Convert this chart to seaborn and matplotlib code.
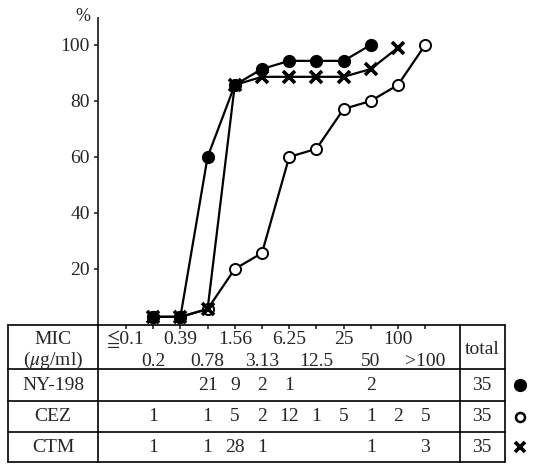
import matplotlib
matplotlib.use("Agg")
import matplotlib.pyplot as plt
import seaborn as sns

# MIC classes (ug/ml) shown under the plot
categories = ["≦0.1", "0.2", "0.39", "0.78", "1.56", "3.13", "6.25",
              "12.5", "25", "50", "100", ">100"]

# number of strains per MIC class
ny198_counts = [0, 0, 0, 21, 9, 2, 1, 0, 0, 2, 0, 0]
cez_counts = [0, 1, 0, 1, 5, 2, 12, 1, 5, 1, 2, 5]
ctm_counts = [0, 1, 0, 1, 28, 1, 0, 0, 0, 1, 0, 3]

# cumulative %
ny198_mic = ["0.2", "0.39", "0.78", "1.56", "3.13", "6.25", "12.5", "25", "50"]
ny198_pct = [2.9, 2.9, 60, 85.7, 91.4, 94.3, 94.3, 94.3, 100]
cez_mic = ["0.2", "0.39", "0.78", "1.56", "3.13", "6.25", "12.5", "25", "50", "100", ">100"]
cez_pct = [2.9, 2.9, 5.7, 20, 25.7, 60, 62.9, 77.1, 80, 85.7, 100]
ctm_mic = ["0.2", "0.39", "0.78", "1.56", "3.13", "6.25", "12.5", "25", "50", "100"]
ctm_pct = [2.9, 2.9, 5.7, 85.7, 88.6, 88.6, 88.6, 88.6, 91.4, 99]

row_names = ["NY-198", "CEZ", "CTM"]

sns.set_style("ticks")
plt.rcParams["font.family"] = ["Liberation Serif", "STIXGeneral", "DejaVu Sans"]
plt.rcParams["mathtext.fontset"] = "stix"
FS = 14

W, H = 536, 466
fig = plt.figure(figsize=(W / 100, H / 100), dpi=100)


def box(l, t, r, b):
    return [l / W, 1 - b / H, (r - l) / W, (b - t) / H]


# pixel position of category 0 and step between categories
x0_px, dx_px = 126, 27.2


def cat(p):
    return (p - x0_px) / dx_px


# --- curve axes ---
ax = fig.add_axes(box(98, 18, 460, 325))
ax.set_xlim(cat(98), cat(460))
ax.set_ylim(0, 109.6)

idx = {c: i for i, c in enumerate(categories)}

sns.lineplot(x=[idx[m] for m in cez_mic], y=cez_pct, ax=ax, color="black", lw=1.6,
             marker="o", markersize=8, markerfacecolor="white",
             markeredgecolor="black", markeredgewidth=1.4, clip_on=False, zorder=3)
sns.lineplot(x=[idx[m] for m in ctm_mic], y=ctm_pct, ax=ax, color="black", lw=1.6,
             marker="x", markersize=8, markeredgecolor="black",
             markeredgewidth=2.6, clip_on=False, zorder=4)
sns.lineplot(x=[idx[m] for m in ny198_mic], y=ny198_pct, ax=ax, color="black", lw=1.6,
             marker="o", markersize=8.5, markerfacecolor="black",
             markeredgecolor="black", markeredgewidth=1, clip_on=False, zorder=5)

ax.set_xlabel("")
ax.set_ylabel("")
sns.despine(ax=ax, top=True, right=True, bottom=True)
ax.spines["left"].set_linewidth(1.3)
ax.set_yticks([20, 40, 60, 80, 100])
ax.set_yticklabels(["20", "40", "60", "80", "100"], fontsize=FS)
ax.set_xticks(range(len(categories)))
ax.tick_params(axis="y", direction="out", length=3, width=1.2, pad=3)
ax.tick_params(axis="x", direction="out", length=3, width=1.2, labelbottom=False)
ax.annotate("%", xy=(0, 1), xycoords="axes fraction", xytext=(-11, 1),
            textcoords="offset points", ha="center", va="center", fontsize=FS - 1)

# --- table under the plot ---
tab = fig.add_axes(box(8, 325, 505, 462))
tab.set_xlim(cat(8), cat(505))
tab.set_ylim(462, 325)
tab.axis("off")

rows_y = [325, 369, 401, 432, 462]
for y in rows_y:
    tab.axhline(y, color="black", lw=1.2, clip_on=False)
for p in [8, 98, 460, 505]:
    tab.axvline(cat(p), color="black", lw=1.2, clip_on=False)

tab.text(cat(53), 339, "MIC", ha="center", va="center", fontsize=FS)
tab.text(cat(53), 360, r"($\mu$g/ml)", ha="center", va="center", fontsize=FS)
tab.text(cat(482), 349, "total", ha="center", va="center", fontsize=FS)

for i, lab in enumerate(categories):
    y = 339 if i % 2 == 0 else 361
    tab.text(i, y, lab, ha="center", va="center", fontsize=FS)

styles = [dict(marker="o", ms=8.5, mfc="black", mec="black", mew=1),
          dict(marker="o", ms=6.5, mfc="white", mec="black", mew=1.8),
          dict(marker="x", ms=7, mec="black", mew=2.6)]

for r, (name, counts, st) in enumerate(zip(row_names,
                                           [ny198_counts, cez_counts, ctm_counts],
                                           styles)):
    yc = (rows_y[r + 1] + rows_y[r + 2]) / 2
    tab.text(cat(53), yc, name, ha="center", va="center", fontsize=FS)
    for i, c in enumerate(counts):
        if c:
            tab.text(i, yc, str(c), ha="center", va="center", fontsize=FS)
    tab.text(cat(482), yc, str(sum(counts)), ha="center", va="center", fontsize=FS)
    tab.plot([cat(520)], [yc], linestyle="none", clip_on=False, **st)

fig.savefig("out.png", dpi=100)
